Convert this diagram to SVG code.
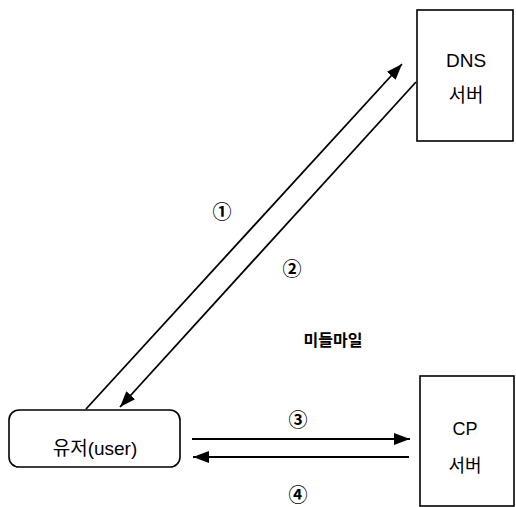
<svg xmlns="http://www.w3.org/2000/svg" width="516" height="507" viewBox="0 0 516 507">
<style>
.box{fill:#fff;stroke:#000;stroke-width:1.6}
.ln{fill:none;stroke:#000;stroke-width:1.8}
.t{font-family:"Liberation Sans","Noto Sans CJK KR",sans-serif;fill:#000;text-anchor:middle}
.n{font-family:"Noto Sans CJK KR","Liberation Sans",sans-serif;fill:#000;text-anchor:middle;font-size:19px;font-weight:bold}
</style>
<defs>
<marker id="ahL" viewBox="0 0 16 12" refX="16" refY="6" markerWidth="16" markerHeight="12" markerUnits="userSpaceOnUse" orient="auto">
<path d="M0,0 L16,6 L0,12 z" fill="#000"/>
</marker>
</defs>
<rect width="516" height="507" fill="#fff"/>
<g id="dns">
<rect class="box" x="417" y="10" width="96" height="131"/>
<text class="t" x="466" y="67" font-size="19">DNS</text>
<text class="t" x="466" y="102" font-size="19">서버</text>
</g>
<g id="user">
<rect class="box" x="9" y="410" width="171" height="57" rx="10"/>
<text class="t" x="95" y="455" font-size="19">유저(user)</text>
</g>
<g id="cp">
<rect class="box" x="420" y="376" width="94" height="130"/>
<text class="t" x="465" y="435" font-size="18">CP</text>
<text class="t" x="465" y="472" font-size="18">서버</text>
</g>
<g id="connectors">
<line class="ln" x1="86" y1="409" x2="402" y2="64" marker-end="url(#ahL)"/>
<line class="ln" x1="416" y1="82" x2="120" y2="407" marker-end="url(#ahL)"/>
<line class="ln" x1="192" y1="439" x2="410" y2="439" marker-end="url(#ahL)"/>
<line class="ln" x1="409" y1="457" x2="193" y2="457" marker-end="url(#ahL)"/>
</g>
<g id="labels">
<text class="n" x="222" y="219">①</text>
<text class="n" x="292" y="276">②</text>
<text class="n" x="298" y="427">③</text>
<text class="n" x="298" y="502">④</text>
<text class="t" x="333" y="346" font-size="16" font-weight="bold">미들마일</text>
</g>
</svg>
